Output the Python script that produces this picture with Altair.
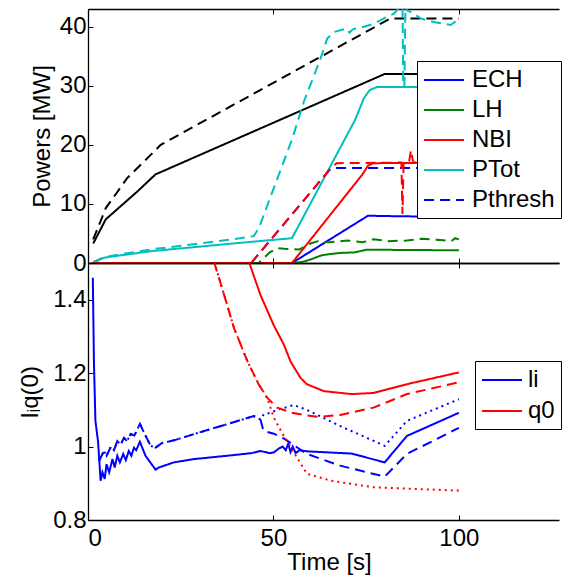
import altair as alt
import pandas as pd

# ---------------- top panel data (time [s], power [MW]) ----------------
ECH_T = [1, 55, 75.5, 85, 100]
ECH_V = [0, 0, 8.0, 7.9, 7.85]
LH_T = [1, 55, 58, 60, 63, 65, 68, 72, 75, 100]
LH_V = [0, 0, 0.2, 0.6, 1.3, 1.5, 1.7, 1.8, 2.25, 2.15]
NBI_T = [1, 55, 74, 75.5, 77, 100]
NBI_V = [0, 0, 15.0, 16.5, 16.9, 17.0]
PTOT_T = [1.4, 4.3, 17, 39, 55, 72, 74.4, 76, 78, 100]
PTOT_V = [0.0, 0.9, 2.0, 3.3, 4.2, 24.2, 27.9, 29.3, 29.8, 29.8]
PTHRESH_T = [1, 44, 65, 66.5, 100]
PTHRESH_V = [0, 0, 15.7, 16.1, 16.1]
BLACK_T = [1.4, 4.8, 13.3, 18.2, 80, 100]
BLACK_V = [3.3, 7.4, 12.1, 15.0, 32.0, 32.0]
BLACK_REF_T = [1.4, 4.8, 10.6, 16.9, 19.6, 81.5, 100]
BLACK_REF_V = [4.0, 9.3, 14.4, 18.3, 20.0, 41.4, 41.4]
LH_REF_T = [1, 46, 49, 51, 53, 57, 60, 62, 65, 70, 74, 77, 81, 86, 90, 95, 98, 99, 100]
LH_REF_V = [0, 0, 1.8, 2.5, 2.4, 2.3, 3.3, 3.7, 3.5, 3.8, 3.5, 4.0, 3.7, 3.8, 4.1, 3.9, 3.7, 4.2, 4.0]
NBI_REF_T = [1, 44, 65, 67, 84.5, 84.8, 85.1, 85.6, 86.6, 87.1, 87.6, 88, 100]
NBI_REF_V = [0, 0, 15.7, 16.9, 17.0, 8.3, 17.0, 17.0, 17.3, 19.1, 17.3, 17.0, 17.0]
PTOT_REF_T = [1.4, 4.3, 17, 39, 44.7, 46.1, 55.1, 58.2, 62.7, 64.5, 66.3, 69.9, 70.5,
              71.5, 74.4, 77.1, 80.7, 82.5, 84.3, 84.8, 85.0, 85.3, 85.6, 86.0, 87.9,
              89.7, 93.3, 97.8, 99.5, 100]
PTOT_REF_V = [0.2, 1.0, 2.3, 4.0, 4.55, 5.95, 21.1, 27.3, 34.6, 38.0, 39.1, 39.7, 39.0,
              39.6, 40.0, 40.5, 41.7, 42.2, 43.5, 43.5, 29.9, 29.9, 43.5, 42.8, 42.2,
              41.4, 40.8, 40.3, 41.1, 41.0]

# ---------------- bottom panel data (time [s], li / q0) ----------------
LI_T = [1.3, 1.6, 2.0, 2.7, 3.4, 3.9, 4.5, 5.0, 5.7, 6.6, 7.2, 7.9, 8.6, 9.5, 10.2, 11.0,
        11.7, 12.4, 13.0, 14.0, 15.5, 17.8, 18.2, 19.1, 23.2, 28.6, 37.5, 44, 46.5, 49,
        50.1, 51.5, 52.5, 53.3, 54.0, 54.6, 55.2, 56.0, 57.0, 59, 71, 80, 86, 100]
LI_V = [1.46, 1.23, 1.07, 1.015, 0.907, 0.93, 0.912, 0.952, 0.93, 0.966, 0.943, 0.975,
        0.957, 0.98, 0.963, 0.988, 0.975, 0.997, 0.99, 1.013, 0.975, 0.943, 0.937, 0.943,
        0.957, 0.966, 0.975, 0.982, 0.988, 0.982, 0.984, 0.995, 1.0, 0.99, 1.008, 0.985,
        1.0, 0.982, 0.99, 0.987, 0.981, 0.957, 1.029, 1.092]
LI_EARLY_T = [3.0, 4.3, 5.0, 6.2, 7.0, 7.9, 8.8, 9.7, 10.5, 11.5, 12.5, 14.0, 15.1, 16.9,
              18.2, 20, 23.2, 28.6, 37.5, 44.7, 46.5]
LI_EARLY_V = [0.961, 0.988, 0.975, 1.0, 0.99, 1.015, 1.005, 1.024, 1.015, 1.034, 1.03,
              1.062, 1.038, 1.002, 0.997, 1.01, 1.017, 1.034, 1.061, 1.083, 1.074]
LI_DASH_T = [47.3, 50.1, 52.8, 59, 68, 80, 86, 100]
LI_DASH_V = [1.043, 1.035, 1.022, 0.98, 0.948, 0.918, 0.98, 1.051]
LI_DOT_T = [47.4, 49.2, 51, 55.5, 59, 68, 80, 86, 100]
LI_DOT_V = [1.088, 1.092, 1.1, 1.113, 1.10, 1.056, 1.002, 1.07, 1.129]
Q0_T = [43.4, 46.5, 50.1, 52.8, 54.6, 57.3, 59, 63.6, 71, 77, 86, 100]
Q0_V = [1.503, 1.413, 1.33, 1.278, 1.232, 1.187, 1.17, 1.151, 1.143, 1.146, 1.17, 1.202]
Q0_EARLY_T = [34, 36.7, 39.4, 43, 46, 48.3]
Q0_EARLY_V = [1.503, 1.413, 1.322, 1.232, 1.17, 1.133]
Q0_DASH_T = [51, 55, 59, 62, 68, 77, 86, 100]
Q0_DASH_V = [1.106, 1.092, 1.085, 1.081, 1.086, 1.106, 1.143, 1.175]
Q0_DOT_T = [50.1, 52.8, 59, 65.5, 77, 100]
Q0_DOT_V = [1.079, 1.029, 0.926, 0.907, 0.889, 0.88]

BLUE, GREEN, RED, CYAN, BLACK = "#0000FF", "#008000", "#FF0000", "#00BFBF", "#000000"
SOLID, DASH, DOT = [1, 0], [10, 6], [2, 4]
FONT = "Liberation Sans"


def frame(items):
    rows = []
    for key, ts, vs in items:
        for i, (t, v) in enumerate(zip(ts, vs)):
            rows.append({"s": key, "t": t, "v": v, "i": i})
    return pd.DataFrame(rows)


top_items = [
    ("ECH", ECH_T, ECH_V), ("LH", LH_T, LH_V), ("NBI", NBI_T, NBI_V),
    ("PTot", PTOT_T, PTOT_V), ("Pthresh", PTHRESH_T, PTHRESH_V),
    ("k", BLACK_T, BLACK_V), ("k--", BLACK_REF_T, BLACK_REF_V),
    ("LH--", LH_REF_T, LH_REF_V), ("NBI--", NBI_REF_T, NBI_REF_V),
    ("PTot--", PTOT_REF_T, PTOT_REF_V),
]
top_dom = [k for k, _, _ in top_items]
top_col = [BLUE, GREEN, RED, CYAN, BLUE, BLACK, BLACK, GREEN, RED, CYAN]
top_dash = [SOLID, SOLID, SOLID, SOLID, DASH, SOLID, DASH, DASH, DASH, DASH]

bot_items = [
    ("li", LI_T, LI_V), ("q0", Q0_T, Q0_V),
    ("li--", LI_EARLY_T + LI_DASH_T, LI_EARLY_V + LI_DASH_V),
    ("li:", LI_EARLY_T + LI_DOT_T, LI_EARLY_V + LI_DOT_V),
    ("q0--", Q0_EARLY_T + Q0_DASH_T, Q0_EARLY_V + Q0_DASH_V),
    ("q0:", Q0_EARLY_T + Q0_DOT_T, Q0_EARLY_V + Q0_DOT_V),
]
bot_dom = [k for k, _, _ in bot_items]
bot_col = [BLUE, RED, BLUE, BLUE, RED, RED]
bot_dash = [SOLID, SOLID, DASH, DOT, DASH, DOT]

W = 471
X_TICKS = [0, 50, 100]
xscale = alt.Scale(domain=[0, 127], nice=False, zero=False)
DOMAIN_STYLE = dict(domain=True, domainColor="black", domainWidth=1.3, ticks=False,
                    labels=False, grid=False, title=None, offset=0)


def legend(values, lx, ly, label_offset, row_pad):
    return alt.Legend(
        title=None, values=values, orient="none", legendX=lx, legendY=ly,
        symbolType="M-1,0H2.333", symbolSize=576, symbolStrokeWidth=2,
        labelFont=FONT, labelFontSize=24, labelColor="black",
        labelOffset=label_offset, rowPadding=row_pad, padding=6,
        strokeColor="black", fillColor="white", symbolOffset=0,
    )


def panel(df, dom, cols, dashes, ydom, yticks, yfmt, height, ytitle, title_pad, leg,
          show_x_labels):
    yscale = alt.Scale(domain=ydom, nice=False, zero=False)
    base = alt.Chart(df)
    if show_x_labels:
        x_main = alt.Axis(orient="bottom", offset=-5, tickSize=5, domain=False,
                          grid=False, values=X_TICKS, labelPadding=6, titlePadding=0,
                          title="Time [s]", titleX=241)
    else:
        x_main = alt.Axis(orient="bottom", offset=-5, tickSize=5, domain=False,
                          grid=False, values=X_TICKS, labels=False, title=None)
    y_main = alt.Axis(orient="left", offset=-5, tickSize=5, domain=False,
                      grid=False, values=yticks, format=yfmt, labelPadding=2,
                      titlePadding=title_pad, title=ytitle)
    lines = base.mark_line(strokeWidth=2, clip=True).encode(
        x=alt.X("t:Q", scale=xscale, axis=x_main),
        y=alt.Y("v:Q", scale=yscale, axis=y_main),
        color=alt.Color("s:N", scale=alt.Scale(domain=dom, range=cols), legend=leg),
        strokeDash=alt.StrokeDash("s:N", scale=alt.Scale(domain=dom, range=dashes),
                                  legend=leg),
        detail="s:N",
        order="i:Q",
    )
    # inward ticks on the top edge and the left frame line
    ticks = base.mark_line(strokeOpacity=0, clip=True).encode(
        x=alt.X("t:Q", scale=xscale,
                axis=alt.Axis(orient="top", offset=-5, tickSize=5, domain=False,
                              grid=False, labels=False, title=None, values=X_TICKS)),
        y=alt.Y("v:Q", scale=yscale, axis=alt.Axis(orient="left", **DOMAIN_STYLE)),
        detail="s:N",
    )
    # bottom and top frame lines
    bot_line = base.mark_line(strokeOpacity=0, clip=True).encode(
        x=alt.X("t:Q", scale=xscale, axis=alt.Axis(orient="bottom", **DOMAIN_STYLE)),
        y=alt.Y("v:Q", scale=yscale, axis=None),
        detail="s:N",
    )
    top_line = base.mark_line(strokeOpacity=0, clip=True).encode(
        x=alt.X("t:Q", scale=xscale, axis=alt.Axis(orient="top", **DOMAIN_STYLE)),
        y=alt.Y("v:Q", scale=yscale, axis=None),
        detail="s:N",
    )
    return alt.layer(lines, ticks, bot_line, top_line).resolve_axis(
        x="independent", y="independent").properties(width=W, height=height)


top = panel(frame(top_items), top_dom, top_col, top_dash, [0, 43],
            [0, 10, 20, 30, 40], "d", 254, "Powers [MW]", 5,
            legend(["ECH", "LH", "NBI", "PTot", "Pthresh"], 329, 52, 23, 5), False)
bottom = panel(frame(bot_items), bot_dom, bot_col, bot_dash, [0.8, 1.5],
               [0.8, 1, 1.2, 1.4], "~g", 257, "l\u1d62q(0)", 10,
               legend(["li", "q0"], 387, 98, 21, 6), True)

chart = alt.vconcat(top, bottom, spacing=0, bounds="flush").resolve_scale(
    color="independent", strokeDash="independent"
).resolve_legend(color="independent", strokeDash="independent").properties(
    padding={"left": 10, "top": 0, "right": 0, "bottom": 0}
).configure_axis(
    labelFont=FONT, labelFontSize=24, labelColor="black", titleFont=FONT,
    titleFontSize=24, titleFontWeight="normal", titleColor="black",
    tickColor="black", tickWidth=1,
).configure_view(stroke="transparent")

chart.save("out.html", embed_options={"renderer": "svg", "actions": False})
